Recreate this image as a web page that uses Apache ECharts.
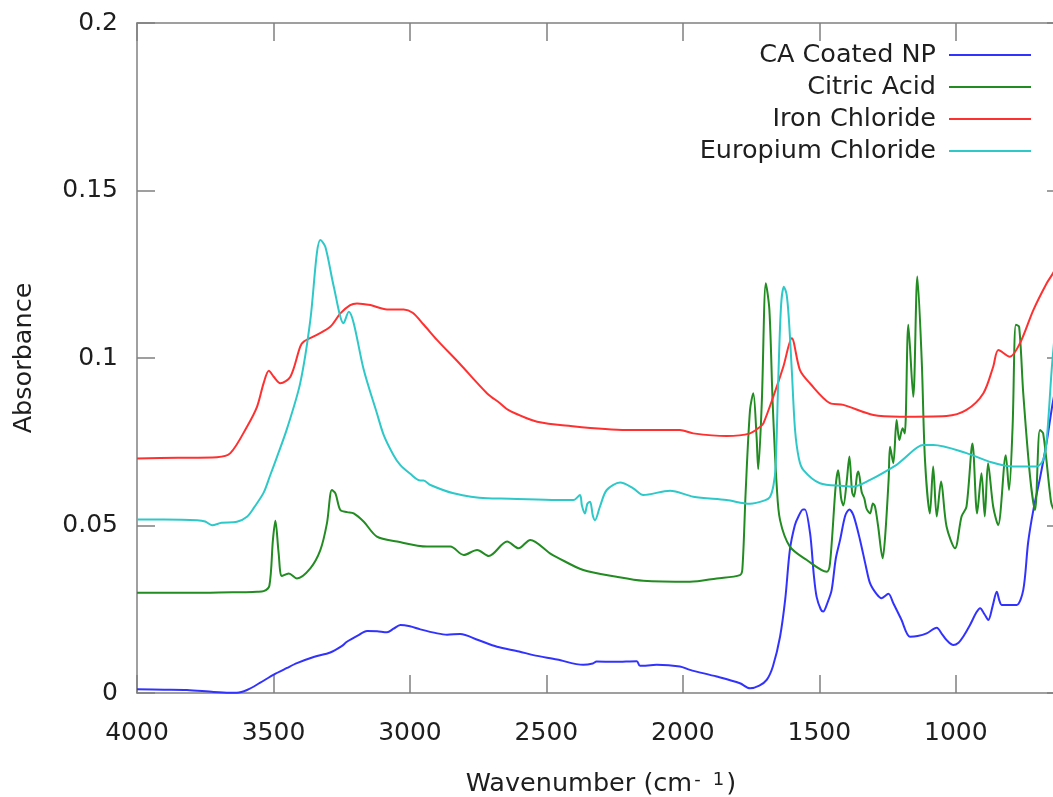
<!DOCTYPE html>
<html>
<head>
<meta charset="utf-8">
<title>FTIR Absorbance Spectra</title>
<script src="https://cdn.jsdelivr.net/npm/echarts@6/dist/echarts.min.js"></script>
<style>
  html, body { margin: 0; padding: 0; background: #ffffff; overflow: hidden; }
  #chart { width: 1066px; height: 797px; }
</style>
</head>
<body>
<div id="chart"></div>
<script>
// Spectra as [wavenumber (cm^-1), absorbance] pairs
const caCoatedNP = [
  [4000,0.0011],[3900,0.0010],[3817,0.0009],[3719,0.0003],[3660,0.0001],[3634,0.0001],
  [3597,0.0009],[3550,0.0030],[3499,0.0055],[3450,0.0075],[3414,0.0089],[3350,0.0108],
  [3292,0.0121],[3250,0.0140],[3231,0.0153],[3190,0.0172],[3157,0.0185],[3120,0.0184],
  [3084,0.0181],[3060,0.0192],[3035,0.0203],[3000,0.0199],[2962,0.0190],[2900,0.0178],
  [2864,0.0174],[2816,0.0176],[2750,0.0158],[2681,0.0138],[2600,0.0124],[2548,0.0113],
  [2461,0.0100],[2365,0.0084],[2330,0.0088],[2316,0.0094],[2250,0.0093],[2169,0.0095],
  [2157,0.0081],[2096,0.0084],[2011,0.0079],[1974,0.0069],[1876,0.0049],[1791,0.0029],
  [1754,0.0014],[1720,0.0022],[1693,0.0039],[1670,0.0080],[1644,0.0168],[1625,0.0280],
  [1608,0.0427],[1590,0.0500],[1577,0.0526],[1560,0.0548],[1553,0.0548],[1534,0.0477],
  [1520,0.0350],[1510,0.0287],[1495,0.0250],[1486,0.0243],[1470,0.0270],[1455,0.0307],
  [1440,0.0400],[1424,0.0457],[1405,0.0530],[1390,0.0548],[1375,0.0530],[1351,0.0457],
  [1330,0.0380],[1314,0.0327],[1290,0.0295],[1272,0.0283],[1247,0.0296],[1229,0.0268],
  [1200,0.0220],[1168,0.0168],[1140,0.0170],[1107,0.0178],[1070,0.0195],[1050,0.0175],
  [1034,0.0158],[1009,0.0143],[990,0.0150],[973,0.0168],[948,0.0203],[925,0.0240],
  [911,0.0253],[895,0.0235],[881,0.0218],[865,0.0260],[850,0.0302],[840,0.0275],
  [832,0.0263],[800,0.0263],[777,0.0263],[753,0.0307],[735,0.0450],[716,0.0546],
  [692,0.0640],[667,0.0750],[644,0.0870],[600,0.1050]
];

const citricAcid = [
  [4000,0.0299],[3800,0.0299],[3700,0.0300],[3600,0.0301],[3560,0.0302],[3536,0.0304],
  [3515,0.0320],[3502,0.0457],[3493,0.0514],[3481,0.0417],[3469,0.0349],[3444,0.0357],
  [3414,0.0342],[3365,0.0372],[3328,0.0427],[3304,0.0507],[3286,0.0606],[3273,0.0596],
  [3255,0.0546],[3230,0.0540],[3206,0.0536],[3169,0.0511],[3121,0.0467],[3047,0.0452],
  [2938,0.0437],[2852,0.0437],[2803,0.0412],[2754,0.0427],[2711,0.0409],[2644,0.0452],
  [2602,0.0432],[2559,0.0457],[2487,0.0417],[2461,0.0405],[2365,0.0367],[2243,0.0347],
  [2145,0.0335],[1974,0.0332],[1876,0.0342],[1791,0.0352],[1782,0.0370],[1770,0.0600],
  [1754,0.0845],[1742,0.0895],[1730,0.0765],[1724,0.0668],[1711,0.0865],[1696,0.1223],
  [1683,0.1143],[1671,0.0865],[1656,0.0616],[1644,0.0516],[1608,0.0437],[1546,0.0397],
  [1473,0.0362],[1461,0.0387],[1440,0.0620],[1431,0.0665],[1420,0.0580],[1412,0.0560],
  [1400,0.0630],[1390,0.0706],[1380,0.0600],[1373,0.0586],[1362,0.0650],[1357,0.0661],
  [1345,0.0600],[1335,0.0580],[1327,0.0550],[1314,0.0536],[1304,0.0566],[1296,0.0556],
  [1285,0.0500],[1268,0.0402],[1259,0.0467],[1246,0.0640],[1241,0.0735],[1229,0.0686],
  [1217,0.0815],[1207,0.0755],[1195,0.0790],[1187,0.0775],[1174,0.1099],[1156,0.0884],
  [1141,0.1243],[1125,0.0994],[1113,0.0696],[1095,0.0536],[1083,0.0676],[1070,0.0527],
  [1054,0.0631],[1034,0.0497],[1003,0.0432],[979,0.0527],[961,0.0556],[939,0.0745],
  [922,0.0536],[906,0.0656],[894,0.0527],[882,0.0686],[863,0.0556],[845,0.0501],
  [817,0.0710],[805,0.0606],[792,0.0795],[780,0.1099],[768,0.1093],[753,0.0895],
  [728,0.0646],[710,0.0546],[692,0.0785],[680,0.0775],[655,0.0596],[646,0.0556],
  [600,0.0500]
];

const ironChloride = [
  [4000,0.0700],[3850,0.0702],[3707,0.0704],[3658,0.0716],[3597,0.0795],[3560,0.0855],
  [3536,0.0925],[3517,0.0962],[3499,0.0944],[3475,0.0925],[3438,0.0944],[3402,0.1034],
  [3389,0.1049],[3341,0.1069],[3292,0.1093],[3255,0.1133],[3219,0.1158],[3194,0.1163],
  [3145,0.1158],[3084,0.1145],[3023,0.1145],[2990,0.1135],[2950,0.1100],[2901,0.1054],
  [2820,0.0985],[2718,0.0895],[2670,0.0865],[2640,0.0845],[2572,0.0820],[2534,0.0810],
  [2450,0.0800],[2206,0.0785],[2011,0.0785],[1962,0.0775],[1840,0.0767],[1754,0.0775],
  [1717,0.0795],[1705,0.0805],[1669,0.0884],[1632,0.0974],[1601,0.1059],[1571,0.0964],
  [1534,0.0924],[1461,0.0865],[1412,0.0860],[1302,0.0830],[1205,0.0825],[1034,0.0827],
  [961,0.0845],[899,0.0895],[863,0.0974],[844,0.1024],[802,0.1004],[765,0.1044],
  [716,0.1143],[667,0.1223],[644,0.1253],[600,0.1320]
];

const europiumChloride = [
  [4000,0.0518],[3900,0.0518],[3780,0.0516],[3750,0.0512],[3725,0.0501],[3690,0.0508],
  [3634,0.0511],[3597,0.0526],[3570,0.0555],[3536,0.0598],[3512,0.0650],[3487,0.0705],
  [3450,0.0790],[3402,0.0925],[3365,0.1113],[3341,0.1313],[3328,0.1352],[3310,0.1332],
  [3279,0.1213],[3243,0.1104],[3224,0.1138],[3206,0.1104],[3169,0.0964],[3121,0.0835],
  [3096,0.0770],[3060,0.0710],[3035,0.0680],[3000,0.0655],[2962,0.0634],[2950,0.0634],
  [2925,0.0621],[2840,0.0596],[2718,0.0581],[2633,0.0580],[2461,0.0576],[2401,0.0576],
  [2377,0.0591],[2370,0.0560],[2359,0.0536],[2350,0.0565],[2340,0.0571],[2330,0.0530],
  [2322,0.0516],[2304,0.0556],[2279,0.0606],[2230,0.0628],[2182,0.0611],[2145,0.0591],
  [2047,0.0604],[1962,0.0586],[1840,0.0576],[1754,0.0565],[1700,0.0575],[1681,0.0585],
  [1668,0.0620],[1660,0.0680],[1650,0.0950],[1640,0.1160],[1630,0.1213],[1620,0.1190],
  [1612,0.1120],[1601,0.0964],[1589,0.0785],[1575,0.0700],[1559,0.0666],[1498,0.0626],
  [1412,0.0618],[1376,0.0616],[1314,0.0636],[1217,0.0681],[1195,0.0696],[1119,0.0740],
  [1083,0.0740],[961,0.0716],[875,0.0690],[790,0.0676],[704,0.0676],[680,0.0696],
  [667,0.0755],[646,0.0994],[620,0.1200],[600,0.1300]
];

const seriesNames = ['CA Coated NP', 'Citric Acid', 'Iron Chloride', 'Europium Chloride'];
const seriesColors = ['#3232ff', '#228b22', '#ff3030', '#2ec8c8'];
const seriesData = [caCoatedNP, citricAcid, ironChloride, europiumChloride];

const xTicks = [4000, 3500, 3000, 2500, 2000, 1500, 1000];
const yTicks = [0, 0.05, 0.1, 0.15, 0.2];

const FONT = 'DejaVu Sans';
const TEXT = '#1e1e1e';
const FRAME = '#808080';

const chart = echarts.init(document.getElementById('chart'), null, { renderer: 'canvas' });

const frameLine = { show: true, lineStyle: { color: FRAME, width: 1.5 } };
const innerTick = { show: true, inside: true, length: 18, lineStyle: { color: FRAME, width: 1.5 } };

const legendTops = [42, 74, 106, 138];

chart.setOption({
  animation: false,
  backgroundColor: '#ffffff',
  grid: { left: 137, right: 1, top: 23, bottom: 104, containLabel: false, outerBoundsMode: 'none' },
  legend: seriesNames.map((name, i) => ({
    data: [name],
    orient: 'vertical',
    right: 35,
    top: legendTops[i],
    align: 'right',
    icon: 'rect',
    itemWidth: 82,
    itemHeight: 2,
    padding: 0,
    selectedMode: false,
    textStyle: { fontFamily: FONT, fontSize: 25.5, color: TEXT, padding: [0, 8, 0, 0] }
  })),
  xAxis: [
    {
      type: 'value', position: 'bottom', inverse: true, min: 600, max: 4000,
      name: 'Wavenumber (cm{sup|-} {sup|1})', nameLocation: 'middle', nameGap: 78,
      nameTextStyle: {
        fontFamily: FONT, fontSize: 25.5, color: TEXT,
        rich: { sup: { fontFamily: FONT, fontSize: 18, color: TEXT, verticalAlign: 'top', padding: [0, 2, 0, 2] } }
      },
      axisLine: Object.assign({ onZero: false }, frameLine),
      axisTick: Object.assign({ customValues: xTicks }, innerTick),
      axisLabel: {
        customValues: xTicks, margin: 28, fontFamily: FONT, fontSize: 25, color: TEXT,
        formatter: v => String(v)
      },
      splitLine: { show: false }
    },
    {
      type: 'value', position: 'top', inverse: true, min: 600, max: 4000,
      axisLine: Object.assign({ onZero: false }, frameLine),
      axisTick: Object.assign({ customValues: xTicks }, innerTick),
      axisLabel: { show: false },
      splitLine: { show: false }
    }
  ],
  yAxis: [
    {
      type: 'value', position: 'left', min: 0, max: 0.2,
      name: 'Absorbance', nameLocation: 'middle', nameGap: 100,
      nameTextStyle: { fontFamily: FONT, fontSize: 25.5, color: TEXT },
      axisLine: Object.assign({ onZero: false }, frameLine),
      axisTick: Object.assign({ customValues: yTicks }, innerTick),
      axisLabel: {
        customValues: yTicks, margin: 19, fontFamily: FONT, fontSize: 25, color: TEXT,
        formatter: v => String(+v.toFixed(2))
      },
      splitLine: { show: false }
    },
    {
      type: 'value', position: 'right', min: 0, max: 0.2,
      axisLine: Object.assign({ onZero: false }, frameLine),
      axisTick: Object.assign({ customValues: yTicks }, innerTick),
      axisLabel: { show: false },
      splitLine: { show: false }
    }
  ],
  series: seriesNames.map((name, i) => ({
    name: name,
    type: 'line',
    xAxisIndex: 0,
    yAxisIndex: 0,
    data: seriesData[i],
    showSymbol: false,
    smooth: 0.3,
    color: seriesColors[i],
    lineStyle: { color: seriesColors[i], width: 2 },
    clip: true
  }))
});
</script>
</body>
</html>
